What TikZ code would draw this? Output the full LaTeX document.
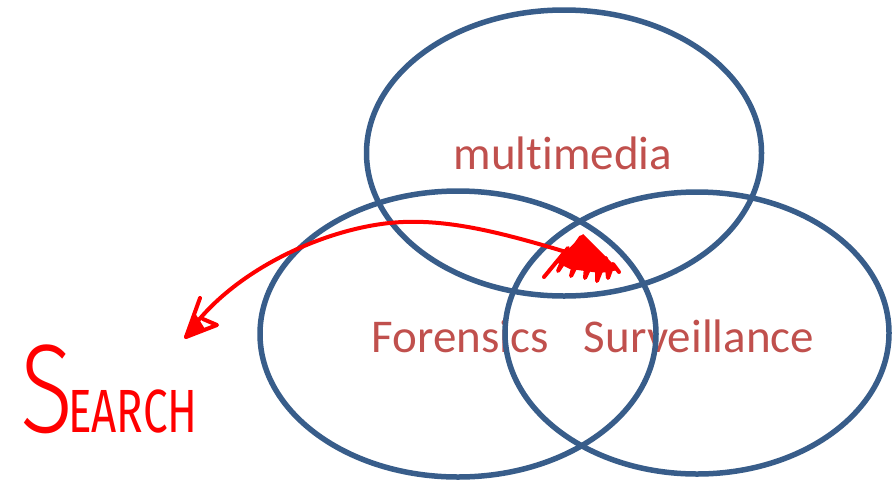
\documentclass[tikz,border=0pt]{standalone}
\usepackage{fontspec}
\usepackage{graphicx}
\usetikzlibrary{shapes.geometric}
\setmainfont{Carlito}[Ligatures=NoCommon]
\newfontfamily\hand{Fira Sans}
\newfontfamily\handlight{Fira Sans Light}
\definecolor{ringblue}{HTML}{385D8A}
\definecolor{labelred}{HTML}{C0504D}
\definecolor{ink}{HTML}{FF0000}
\newcommand\labelfont{\fontsize{47}{56}\selectfont}
\newlength\forensW
\newlength\letteriW
\tikzset{
  ring/.style={ellipse, draw=ringblue, line width=5.5pt, inner sep=0pt, outer sep=0pt},
  setlabel/.style={text=labelred, font=\labelfont, anchor=base, inner sep=0pt},
  scrawl/.style={draw=ink, line width=4pt, line cap=round, line join=round},
}
\begin{document}
\settowidth\forensW{\labelfont Forens}%
\settowidth\letteriW{\labelfont i}%
\begin{tikzpicture}[x=1pt,y=-1pt]
\useasboundingbox (0,0) rectangle (893,483);

% ring outlines, placed first so the labels can be aligned to them
\path node[ring, minimum width=395pt, minimum height=286pt, draw=none] (mm)  at (564,153) {}
      node[ring, minimum width=396pt, minimum height=286pt, draw=none] (for) at (458,334) {}
      node[ring, minimum width=384pt, minimum height=282pt, draw=none] (sur) at (697,333) {};

% set labels (drawn first so the rings pass over them)
\node[setlabel] (lmm)  at (563,169) {multimedia};
\node[setlabel, anchor=base west] (lfor)
  at ([shift={(-\forensW-0.5\letteriW,-19pt)}]sur.west) {Forensics};
\node[setlabel] (lsur) at (699,352) {Surveillance};

% the three overlapping sets
\draw[ringblue, line width=5.5pt] (mm.center)  ellipse [x radius=197.5, y radius=143];
\draw[ringblue, line width=5.5pt] (for.center) ellipse [x radius=198, y radius=143];
\draw[ringblue, line width=5.5pt] (sur.center) ellipse [x radius=192, y radius=141];

% hatched triple intersection
\coordinate (hot) at (566,252);
\coordinate (tip) at (186,337);
\fill[ink] (556,262) -- (583,234) -- (619,270) -- (600,273) -- (570,269) -- cycle;
\draw[scrawl] (544,277) -- (568,248) -- (558,271) -- (581,237)
  -- (571,276) -- (588,243) -- (585,278) -- (597,251) -- (597,281)
  -- (606,258) -- (608,278) -- (613,264) -- (619,272);

% curved arrow to the search label
\draw[scrawl] (hot) .. controls (500,232) and (450,220) .. (403,222)
  .. controls (330,225) and (230,270) .. (tip);
\fill[ink] (tip) -- ++(9,-24) -- ++(10,16) -- cycle;
\draw[scrawl] (tip) ++(14,-39) -- (tip) -- ++(31,-12) -- ++(-14,-6);

% handwritten label
\node[text=ink, anchor=base west, inner sep=0pt] (search) at (20,432)
  {\scalebox{0.78}[1]{\handlight\fontsize{126}{126}\selectfont S}\hspace{-5pt}%
   \scalebox{0.72}[1]{\hand\fontsize{61}{61}\selectfont EARCH}};
\end{tikzpicture}
\end{document}
